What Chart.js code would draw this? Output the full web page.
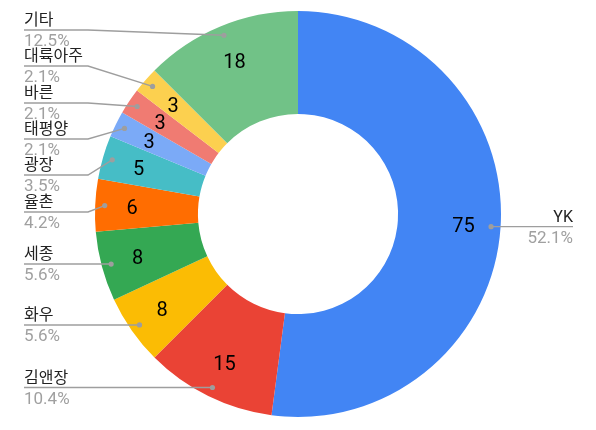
<!DOCTYPE html>
<html>
<head>
<meta charset="utf-8">
<script src="https://cdn.jsdelivr.net/npm/chart.js@4.4.1/dist/chart.umd.min.js"></script>
<style>
  html, body { margin: 0; padding: 0; background: #fff; }
  #wrap { width: 596px; height: 430px; }
</style>
</head>
<body>
<div id="wrap"><canvas id="chart" width="596" height="430"></canvas></div>
<script>
// data, clockwise from 12 o'clock
var firms = ["YK", "김앤장", "화우", "세종", "율촌", "광장", "태평양", "바른", "대륙아주", "기타"];
var counts = [75, 15, 8, 8, 6, 5, 3, 3, 3, 18];
var colors = ["#4285f4", "#ea4335", "#fbbc04", "#34a853", "#ff6d01",
              "#46bdc6", "#7baaf7", "#f07b72", "#fcd04f", "#71c287"];

// where the leader lines sit (null = same height as the slice dot)
var leaderY = [null, null, null, null, 212, 175, 139, 103, 66, 30];

var FONT = 'Roboto, "Noto Sans CJK KR", sans-serif';

var total = counts.reduce(function (a, b) { return a + b; }, 0);

var sideLabels = {
  id: "sideLabels",
  afterDatasetsDraw: function (chart) {
    var ctx = chart.ctx;
    var arcs = chart.getDatasetMeta(0).data;
    ctx.save();
    arcs.forEach(function (arc, i) {
      var mid = (arc.startAngle + arc.endAngle) / 2;
      var ro = arc.outerRadius, ri = arc.innerRadius;

      // value inside the ring
      var rv = ri + (ro - ri) * 0.64;
      ctx.font = "20px " + FONT;
      ctx.fillStyle = "#000";
      ctx.textAlign = "center";
      ctx.textBaseline = "middle";
      ctx.fillText(String(counts[i]), arc.x + Math.cos(mid) * rv, arc.y + Math.sin(mid) * rv + 2);

      // dot + leader line
      var rd = ro * 0.953;
      var dx = arc.x + Math.cos(mid) * rd;
      var dy = arc.y + Math.sin(mid) * rd;
      var right = Math.cos(mid) > 0;
      var ly = leaderY[i] == null ? dy : leaderY[i];

      ctx.strokeStyle = "#9e9e9e";
      ctx.lineWidth = 1.4;
      ctx.beginPath();
      if (right) {
        ctx.moveTo(dx, dy);
        ctx.lineTo(573, ly);
      } else {
        ctx.moveTo(24, ly);
        ctx.lineTo(88, ly);
        ctx.lineTo(dx, dy);
      }
      ctx.stroke();
      ctx.fillStyle = "#9e9e9e";
      ctx.beginPath();
      ctx.arc(dx, dy, 2.6, 0, Math.PI * 2);
      ctx.fill();

      var tx = right ? 573 : 24;
      ctx.textAlign = right ? "right" : "left";
      ctx.textBaseline = "alphabetic";
      ctx.font = "16px " + FONT;
      ctx.fillStyle = "#222";
      ctx.fillText(firms[i], tx, ly - 5);
      ctx.font = "17px " + FONT;
      ctx.fillStyle = "#a0a0a0";
      ctx.fillText((counts[i] / total * 100).toFixed(1) + "%", tx, ly + 16);
    });
    ctx.restore();
  }
};

new Chart(document.getElementById("chart").getContext("2d"), {
  type: "doughnut",
  data: {
    labels: firms,
    datasets: [
      {
        data: counts,
        backgroundColor: colors,
        borderWidth: 0
      }
    ]
  },
  options: {
    responsive: false,
    animation: false,
    cutout: "49.3%",
    layout: { padding: { top: 11, bottom: 13, left: 0, right: 0 } },
    plugins: {
      legend: { display: false },
      tooltip: { enabled: false }
    }
  },
  plugins: [sideLabels]
});
</script>
</body>
</html>
